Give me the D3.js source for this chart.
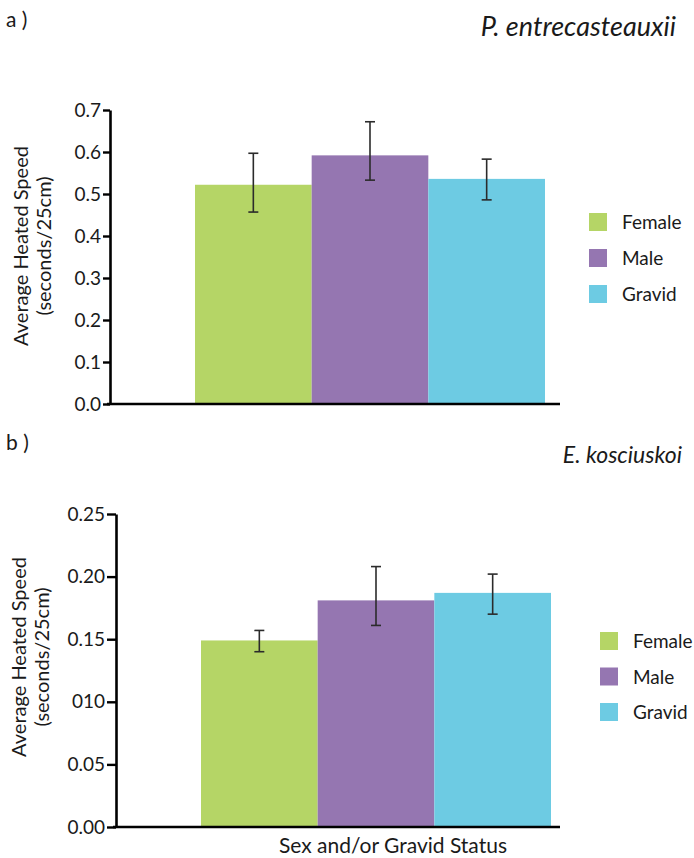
<!DOCTYPE html>
<html>
<head>
<meta charset="utf-8">
<script src="https://cdn.jsdelivr.net/npm/d3@7"></script>
<style>
  body { margin: 0; background: #fff; }
  svg { font-family: Lato, "Open Sans", sans-serif; }
</style>
</head>
<body>
<div id="chart"></div>
<script>
// categories shared by both panels
const categories = ["Female", "Male", "Gravid"];

// panel a: P. entrecasteauxii
const meansA = [0.522, 0.592, 0.536];
const lowA = [0.457, 0.533, 0.486];
const highA = [0.597, 0.672, 0.583];
const tickValuesA = [0, 0.1, 0.2, 0.3, 0.4, 0.5, 0.6, 0.7];
const tickLabelsA = ["0.0", "0.1", "0.2", "0.3", "0.4", "0.5", "0.6", "0.7"];

// panel b: E. kosciuskoi
const meansB = [0.149, 0.181, 0.187];
const lowB = [0.140, 0.161, 0.170];
const highB = [0.157, 0.208, 0.202];
const tickValuesB = [0, 0.05, 0.10, 0.15, 0.20, 0.25];
const tickLabelsB = ["0.00", "0.05", "010", "0.15", "0.20", "0.25"];

const barColors = ["#b5d566", "#9576b1", "#6dcbe3"];

const svg = d3.select("#chart")
  .append("svg")
  .attr("width", 694)
  .attr("height", 858);

const color = d3.scaleOrdinal().domain(categories).range(barColors);

function drawPanel(cfg) {
  const g = svg.append("g");

  const y = d3.scaleLinear().domain(cfg.domain).range([cfg.bottom, cfg.top]);
  const x = d3.scaleBand().domain(categories).range([cfg.barLeft, cfg.barRight]).padding(0);

  const rows = categories.map((c, i) => ({
    cat: c, mean: cfg.means[i], low: cfg.low[i], high: cfg.high[i]
  }));

  // bars
  g.selectAll("rect.bar")
    .data(rows)
    .join("rect")
    .attr("class", "bar")
    .attr("x", d => x(d.cat))
    .attr("width", x.bandwidth())
    .attr("y", d => y(d.mean))
    .attr("height", d => y(0) - y(d.mean))
    .attr("fill", d => color(d.cat));

  // error bars
  const eb = g.selectAll("g.err")
    .data(rows)
    .join("g")
    .attr("class", "err")
    .attr("stroke", "#2b2b2b")
    .attr("stroke-width", 1.6);
  eb.append("line")
    .attr("x1", d => x(d.cat) + x.bandwidth() / 2)
    .attr("x2", d => x(d.cat) + x.bandwidth() / 2)
    .attr("y1", d => y(d.low))
    .attr("y2", d => y(d.high));
  eb.append("line")
    .attr("x1", d => x(d.cat) + x.bandwidth() / 2 - 5)
    .attr("x2", d => x(d.cat) + x.bandwidth() / 2 + 5)
    .attr("y1", d => y(d.high))
    .attr("y2", d => y(d.high));
  eb.append("line")
    .attr("x1", d => x(d.cat) + x.bandwidth() / 2 - 5)
    .attr("x2", d => x(d.cat) + x.bandwidth() / 2 + 5)
    .attr("y1", d => y(d.low))
    .attr("y2", d => y(d.low));

  // y axis
  const yAxis = d3.axisLeft(y)
    .tickValues(cfg.tickValues)
    .tickFormat((d, i) => cfg.tickLabels[i])
    .tickSizeInner(cfg.tickLen)
    .tickSizeOuter(0)
    .tickPadding(2);

  const ya = g.append("g")
    .attr("transform", `translate(${cfg.axisX},0)`)
    .call(yAxis);
  ya.select(".domain").attr("stroke", "#000").attr("stroke-width", 2.6);
  ya.selectAll(".tick line").attr("stroke", "#000").attr("stroke-width", 2.4);
  ya.selectAll(".tick text")
    .attr("fill", "#1a1a1a")
    .style("font-size", "19px")
    .style("font-family", "Lato, sans-serif");

  // x axis line (no ticks)
  g.append("line")
    .attr("x1", cfg.axisX - 3)
    .attr("x2", cfg.axisRight)
    .attr("y1", y(0))
    .attr("y2", y(0))
    .attr("stroke", "#000")
    .attr("stroke-width", 2.6);

  // y title
  const yt = g.append("text")
    .attr("transform", `translate(${cfg.titleX},${cfg.titleY}) rotate(-90)`)
    .attr("text-anchor", "middle")
    .attr("fill", "#1a1a1a")
    .style("font-size", "20px");
  yt.append("tspan").attr("x", 0).attr("dy", 0).text("Average Heated Speed");
  yt.append("tspan").attr("x", 0).attr("dy", 23).text("(seconds/25cm)");

  // panel letter and species
  g.append("text")
    .attr("x", 6)
    .attr("y", cfg.letterY)
    .attr("fill", "#1a1a1a")
    .style("font-size", "21px")
    .text(cfg.letter);
  g.append("text")
    .attr("x", cfg.speciesRight)
    .attr("y", cfg.speciesY)
    .attr("text-anchor", "end")
    .attr("fill", "#1a1a1a")
    .style("font-size", cfg.speciesSize + "px")
    .style("font-style", "italic")
    .text(cfg.species);

  // legend
  const lg = g.selectAll("g.leg")
    .data(categories)
    .join("g")
    .attr("class", "leg")
    .attr("transform", (d, i) => `translate(${cfg.legendX},${cfg.legendY + i * cfg.legendStep})`);
  lg.append("rect")
    .attr("width", 18)
    .attr("height", 18)
    .attr("fill", d => color(d));
  lg.append("text")
    .attr("x", 33)
    .attr("y", 16)
    .attr("fill", "#1a1a1a")
    .style("font-size", "19px")
    .text(d => d);
}

drawPanel({
  letter: "a )", letterY: 27, species: "P. entrecasteauxii", speciesY: 36,
  speciesRight: 676, speciesSize: 27,
  domain: [0, 0.7], top: 110, bottom: 404,
  barLeft: 195, barRight: 545, axisX: 110, axisRight: 560, tickLen: 7,
  means: meansA, low: lowA, high: highA,
  tickValues: tickValuesA, tickLabels: tickLabelsA,
  titleX: 28, titleY: 246,
  legendX: 589, legendY: 213, legendStep: 36
});

drawPanel({
  letter: "b )", letterY: 450, species: "E. kosciuskoi", speciesY: 463,
  speciesRight: 682, speciesSize: 23,
  domain: [0, 0.25], top: 514, bottom: 827,
  barLeft: 201, barRight: 551, axisX: 116, axisRight: 560, tickLen: 9,
  means: meansB, low: lowB, high: highB,
  tickValues: tickValuesB, tickLabels: tickLabelsB,
  titleX: 26, titleY: 657,
  legendX: 600, legendY: 632, legendStep: 35.5
});

svg.append("text")
  .attr("x", 393)
  .attr("y", 853)
  .attr("text-anchor", "middle")
  .attr("fill", "#1a1a1a")
  .style("font-size", "21px")
  .text("Sex and/or Gravid Status");
</script>
</body>
</html>
